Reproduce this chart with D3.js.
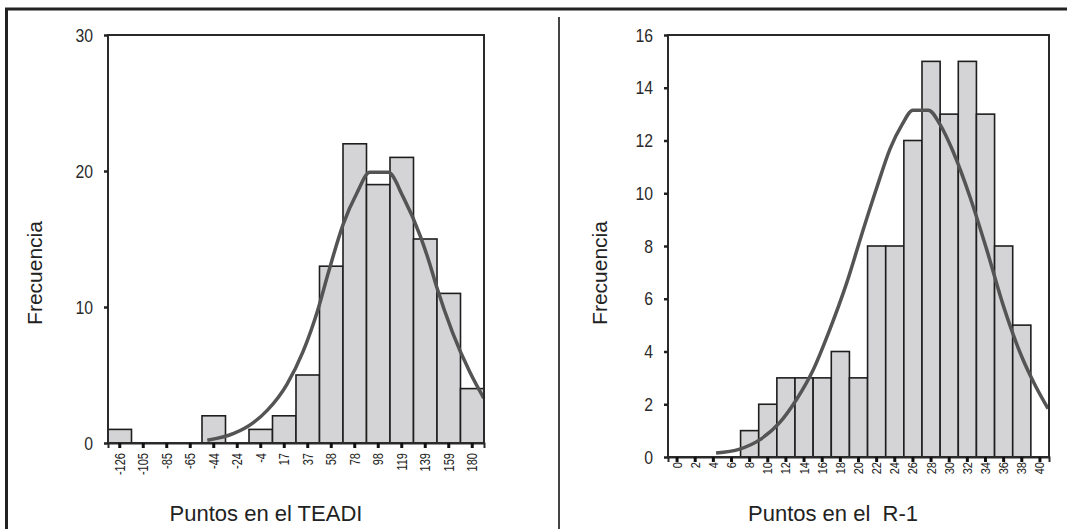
<!DOCTYPE html>
<html>
<head>
<meta charset="utf-8">
<script src="https://cdnjs.cloudflare.com/ajax/libs/d3/7.8.5/d3.min.js"></script>
<style>
body { margin: 0; background: white; }
svg { display: block; font-family: "Liberation Sans", Arial, sans-serif; }
</style>
</head>
<body>
<div class="container"></div>
<script>
// left histogram: TEADI scores
var teadiBins = ["-126", "-105", "-85", "-65", "-44", "-24", "-4", "17", "37", "58", "78", "98", "119", "139", "159", "180"];
var teadiCounts = [1, 0, 0, 0, 2, 0, 1, 2, 5, 13, 22, 19, 21, 15, 11, 4];
var teadiTicks = [0, 10, 20, 30];
// normal curve
var teadiCurveX = [-50, -27, -10, 2, 19, 33, 46, 55, 68, 80, 91, 107, 120, 135, 143, 149, 163, 178, 190];
var teadiCurveY = [0.2, 0.7, 1.5, 2.4, 4.3, 6.7, 9.8, 12.5, 16.1, 18.4, 19.9, 19.9, 18.1, 15.2, 13.2, 11.5, 8.1, 5.2, 3.3];

// right histogram: R-1 scores
var r1Bins = ["0", "2", "4", "6", "8", "10", "12", "14", "16", "18", "20", "22", "24", "26", "28", "30", "32", "34", "36", "38", "40"];
var r1Counts = [0, 0, 0, 0, 1, 2, 3, 3, 3, 4, 3, 8, 8, 12, 15, 13, 15, 13, 8, 5, 0];
var r1Ticks = [0, 2, 4, 6, 8, 10, 12, 14, 16];
var r1CurveX = [4.3, 6.9, 9.1, 11.3, 13.2, 15, 16.8, 18.7, 20.5, 22, 23.5, 24.8, 26, 27.7, 29, 30.4, 32.3, 34.1, 36, 38, 39.5, 40.9];
var r1CurveY = [0.15, 0.3, 0.65, 1.3, 2.2, 3.3, 4.8, 6.6, 8.6, 10.2, 11.7, 12.6, 13.15, 13.15, 12.6, 11.6, 9.85, 7.9, 5.7, 3.8, 2.7, 1.83];

var width = 1067, height = 529;

var svg = d3.select(".container")
            .append("svg")
            .attr("width", width)
            .attr("height", height);

svg.append("rect")
   .attr("width", width)
   .attr("height", height)
   .style("fill", "white");

// outer frame of the figure (left and top) and the middle divider
svg.append("line")
   .attr("x1", 6.5).attr("x2", 6.5).attr("y1", 8).attr("y2", height)
   .style("stroke", "#222").style("stroke-width", 3);
svg.append("line")
   .attr("x1", 5).attr("x2", width).attr("y1", 9).attr("y2", 9)
   .style("stroke", "#222").style("stroke-width", 3);
svg.append("line")
   .attr("x1", 559).attr("x2", 559).attr("y1", 17).attr("y2", height)
   .style("stroke", "#444").style("stroke-width", 2);

// squeezes tick text sideways, the labels in the picture are narrow
function squeeze(selection, factor) {
    selection.each(function() {
        var w = this.getComputedTextLength();
        d3.select(this)
          .attr("textLength", w * factor)
          .attr("lengthAdjust", "spacingAndGlyphs");
    });
}

// draws one histogram with its normal curve
function histogram(opt) {
    var g = svg.append("g");

    var xScale = d3.scaleBand()
                   .domain(opt.bins)
                   .range([opt.left, opt.right])
                   .padding(0);

    var yScale = d3.scaleLinear()
                   .domain([0, d3.max(opt.ticks)])
                   .range([opt.bottom, opt.top]);

    // numeric scale for the curve, same pixel span as the bins
    var first = +opt.bins[0], last = +opt.bins[opt.bins.length - 1];
    var binWidth = (last - first) / (opt.bins.length - 1);
    var curveScale = d3.scaleLinear()
                       .domain([first - binWidth / 2, last + binWidth / 2])
                       .range([opt.left, opt.right]);

    var data = opt.bins.map(function(b, i) { return {name: b, count: opt.counts[i]}; })
                       .filter(function(d) { return d.count > 0; });

    // bars
    g.selectAll(".bar")
     .data(data)
     .enter()
     .append("rect")
     .attr("class", "bar")
     .attr("x", function(d) { return xScale(d.name); })
     .attr("y", function(d) { return yScale(d.count); })
     .attr("width", xScale.bandwidth())
     .attr("height", function(d) { return yScale(0) - yScale(d.count); })
     .style("fill", "#d4d4d6")
     .style("stroke", "#1e1e1e")
     .style("stroke-width", 1.6);

    // normal curve
    var line = d3.line()
                 .x(function(d) { return curveScale(d[0]); })
                 .y(function(d) { return yScale(d[1]); })
                 .curve(d3.curveMonotoneX);
    g.append("path")
     .datum(d3.zip(opt.curveX, opt.curveY))
     .attr("d", line)
     .style("fill", "none")
     .style("stroke", "#545454")
     .style("stroke-width", 3.5)
     .style("stroke-linejoin", "round");

    // plot frame
    g.append("rect")
     .attr("x", opt.left)
     .attr("y", opt.top)
     .attr("width", opt.right - opt.left)
     .attr("height", opt.bottom - opt.top)
     .style("fill", "none")
     .style("stroke", "#2a2a2a")
     .style("stroke-width", 2);

    // y axis
    var yAxis = g.append("g")
                 .attr("transform", "translate(" + opt.left + ",0)")
                 .call(d3.axisLeft(yScale).tickValues(opt.ticks).tickSize(4).tickPadding(11));
    yAxis.select(".domain").remove();
    yAxis.selectAll("line").style("stroke", "#222").style("stroke-width", 2.5);
    yAxis.selectAll("text")
         .style("font-size", "19px")
         .style("font-family", "'Liberation Sans', Arial, sans-serif")
         .style("fill", "#2a2a2a")
         .call(squeeze, 0.83);

    // x axis with vertical labels
    var xAxis = g.append("g")
                 .attr("transform", "translate(0," + opt.bottom + ")")
                 .call(d3.axisBottom(xScale).tickSize(5));
    xAxis.select(".domain").style("stroke", "#2a2a2a").style("stroke-width", 2);
    xAxis.selectAll("line").style("stroke", "#111").style("stroke-width", 3);
    xAxis.selectAll("text")
         .attr("transform", "rotate(-90)")
         .attr("x", -opt.labelGap)
         .attr("y", 0)
         .attr("dy", "0.35em")
         .style("text-anchor", "end")
         .style("font-size", opt.labelSize)
         .style("font-family", "'Liberation Sans', Arial, sans-serif")
         .style("fill", "#222")
         .call(squeeze, opt.labelSqueeze);

    // axis titles
    g.append("text")
     .attr("x", opt.titleX)
     .attr("y", 521)
     .attr("text-anchor", "middle")
     .style("font-size", "22px")
     .style("fill", "#222")
     .style("white-space", "pre")
     .text(opt.xTitle);

    g.append("text")
     .attr("transform", "translate(" + opt.yTitleX + ",273) rotate(-90)")
     .attr("text-anchor", "middle")
     .style("font-size", "21px")
     .style("fill", "#222")
     .text("Frecuencia");
}

histogram({
    bins: teadiBins, counts: teadiCounts, ticks: teadiTicks,
    curveX: teadiCurveX, curveY: teadiCurveY,
    left: 108, right: 484, top: 35, bottom: 443,
    labelGap: 10, labelSize: "14.5px", labelSqueeze: 0.76,
    xTitle: "Puntos en el TEADI", titleX: 266, yTitleX: 42
});

histogram({
    bins: r1Bins, counts: r1Counts, ticks: r1Ticks,
    curveX: r1CurveX, curveY: r1CurveY,
    left: 668, right: 1049, top: 35, bottom: 457,
    labelGap: 5, labelSize: "13px", labelSqueeze: 0.85,
    xTitle: "Puntos en el  R-1", titleX: 833, yTitleX: 607
});
</script>
</body>
</html>
